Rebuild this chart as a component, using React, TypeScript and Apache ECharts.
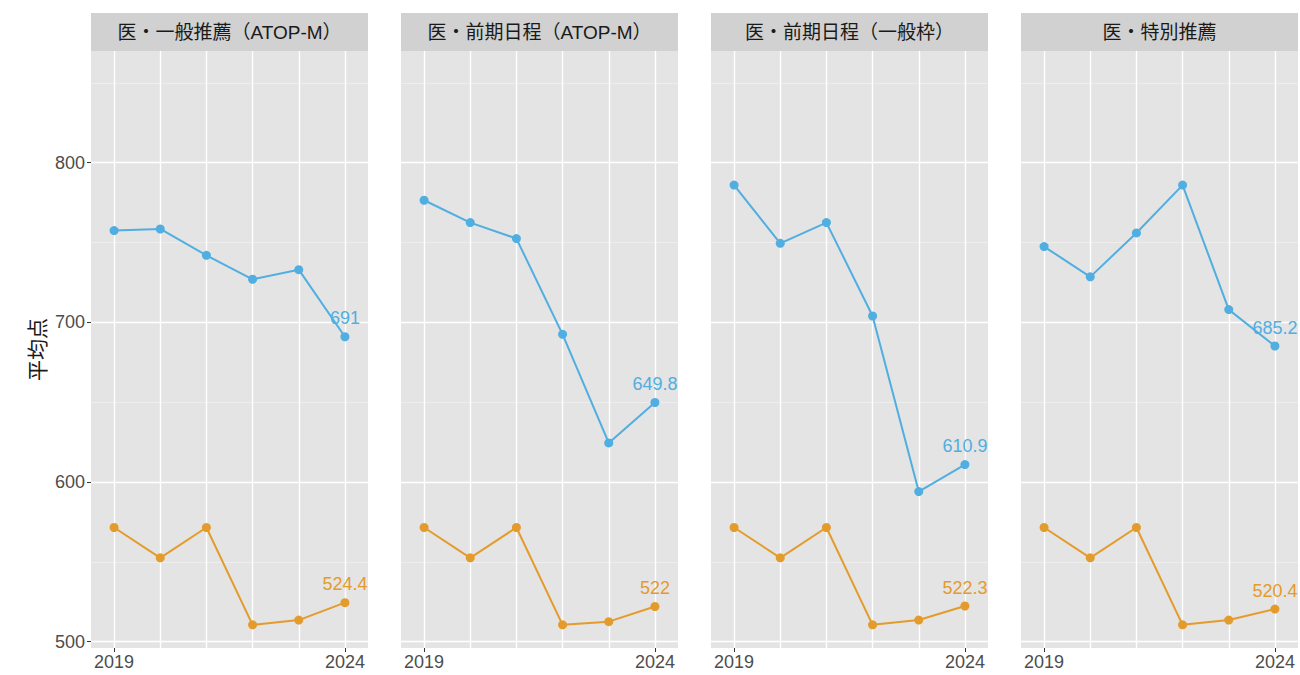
import React, { useEffect, useRef } from "react";
import * as echarts from "echarts";

const years = [2019, 2020, 2021, 2022, 2023, 2024];
const panelTitles = [
  "医・一般推薦（ATOP-M）",
  "医・前期日程（ATOP-M）",
  "医・前期日程（一般枠）",
  "医・特別推薦",
];
const blueValues = [
  [757.5, 758.5, 742, 727, 733, 691],
  [776.5, 762.5, 752.5, 692.5, 624.5, 649.8],
  [786, 749.5, 762.5, 704, 594, 610.9],
  [747.5, 728.5, 756, 786, 708, 685.2],
];
const orangeValues = [
  [571.5, 552.5, 571.5, 510.5, 513.5, 524.4],
  [571.5, 552.5, 571.5, 510.5, 512.5, 522],
  [571.5, 552.5, 571.5, 510.5, 513.5, 522.3],
  [571.5, 552.5, 571.5, 510.5, 513.5, 520.4],
];
const yMajor = [500, 600, 700, 800];
const yMinor = [550, 650, 750, 850];
const xTickLabels = [2019, 2024];

const BLUE = "#50AEE0";
const ORANGE = "#E39B2C";
const FONT = "'Liberation Sans', 'Noto Sans CJK JP', sans-serif";

export default function App() {
  const ref = useRef<HTMLDivElement>(null);
  useEffect(() => {
    if (!ref.current) return;
    const chart = echarts.init(ref.current, null, { renderer: "svg" });
    const lefts = [91, 401, 711, 1021];
    const panelW = 277;
    const top = 51;
    const bottom = 675 - 648;
    const grids: any[] = [];
    const xAxes: any[] = [];
    const yAxes: any[] = [];
    const series: any[] = [];
    const graphics: any[] = [];

    const mkData = (vals: number[], color: string) =>
      vals.map((v, i) => {
        if (i === vals.length - 1) {
          return {
            value: [years[i], v],
            label: {
              show: true,
              position: "top",
              distance: 5,
              color,
              fontSize: 18,
              fontFamily: FONT,
              formatter: String(v),
            },
          };
        }
        return { value: [years[i], v] };
      });

    panelTitles.forEach((title, k) => {
      grids.push({
        left: lefts[k],
        width: panelW,
        top,
        bottom,
        show: true,
        backgroundColor: "#E4E4E4",
        borderWidth: 0,
        containLabel: false,
      });
      xAxes.push({
        type: "value",
        gridIndex: k,
        min: 2018.5,
        max: 2024.5,
        axisLine: { show: false },
        splitLine: { show: false },
        axisTick: {
          show: true,
          customValues: xTickLabels,
          length: 4,
          lineStyle: { color: "#333333", width: 1 },
        },
        axisLabel: {
          customValues: xTickLabels,
          formatter: (v: number) => String(v),
          fontSize: 18,
          color: "#4D4D4D",
          fontFamily: FONT,
          margin: 5,
        },
      });
      yAxes.push({
        type: "value",
        gridIndex: k,
        min: 496,
        max: 870,
        axisLine: { show: false },
        splitLine: { show: false },
        axisTick: {
          show: k === 0,
          customValues: yMajor,
          length: 4,
          lineStyle: { color: "#333333", width: 1 },
        },
        axisLabel: {
          show: k === 0,
          customValues: yMajor,
          formatter: (v: number) => String(v),
          fontSize: 18,
          color: "#4D4D4D",
          fontFamily: FONT,
          margin: 6,
        },
        name: k === 0 ? "平均点" : "",
        nameLocation: "middle",
        nameGap: 43,
        nameRotate: 90,
        nameTextStyle: { fontSize: 21, color: "#1A1A1A", fontFamily: FONT },
      });
      series.push({
        type: "line",
        xAxisIndex: k,
        yAxisIndex: k,
        data: [[2019, 600]],
        showSymbol: false,
        lineStyle: { opacity: 0 },
        silent: true,
        z: 0,
        markLine: {
          silent: true,
          z: 0,
          symbol: ["none", "none"],
          label: { show: false },
          animation: false,
          data: [
            ...yMinor.map((v) => ({ yAxis: v, lineStyle: { color: "#F2F2F2", width: 0.7, type: "solid" } })),
            ...yMajor.map((v) => ({ yAxis: v, lineStyle: { color: "#FFFFFF", width: 1.4, type: "solid" } })),
            ...years.map((v) => ({ xAxis: v, lineStyle: { color: "#FFFFFF", width: 1.4, type: "solid" } })),
          ],
        },
      });
      series.push({
        type: "line",
        xAxisIndex: k,
        yAxisIndex: k,
        data: mkData(blueValues[k], BLUE),
        symbol: "circle",
        symbolSize: 9,
        lineStyle: { color: BLUE, width: 2 },
        itemStyle: { color: BLUE, borderWidth: 0 },
        z: 3,
      });
      series.push({
        type: "line",
        xAxisIndex: k,
        yAxisIndex: k,
        data: mkData(orangeValues[k], ORANGE),
        symbol: "circle",
        symbolSize: 9,
        lineStyle: { color: ORANGE, width: 2 },
        itemStyle: { color: ORANGE, borderWidth: 0 },
        z: 3,
      });
      graphics.push({
        type: "rect",
        shape: { x: lefts[k], y: 13, width: panelW, height: 38 },
        style: { fill: "#D1D1D1" },
        silent: true,
      });
      graphics.push({
        type: "text",
        x: lefts[k] + panelW / 2,
        y: 32,
        style: {
          text: title,
          fontSize: 19,
          fill: "#1A1A1A",
          fontFamily: FONT,
          align: "center",
          verticalAlign: "middle",
        },
        silent: true,
      });
    });

    chart.setOption({
      animation: false,
      backgroundColor: "#FFFFFF",
      grid: grids,
      xAxis: xAxes,
      yAxis: yAxes,
      series,
      graphic: graphics,
    });
    return () => chart.dispose();
  }, []);
  return (
    <div
      ref={ref}
      style={{ position: "fixed", left: 0, top: 0, width: 1300, height: 675 }}
    />
  );
}
